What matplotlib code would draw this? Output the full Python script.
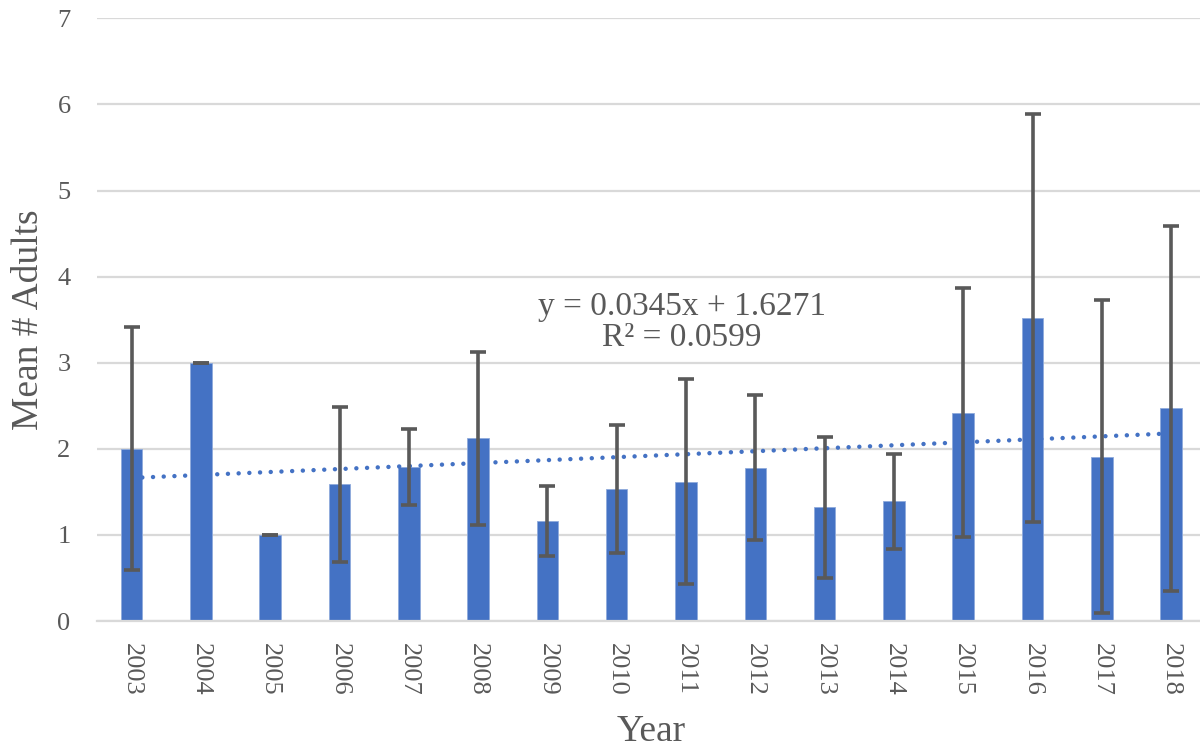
import numpy as np
import matplotlib.pyplot as plt

# Mean number of adults per year, with error bars (SD)
years = ['2003', '2004', '2005', '2006', '2007', '2008', '2009', '2010',
         '2011', '2012', '2013', '2014', '2015', '2016', '2017', '2018']
means = [2.00, 3.00, 1.00, 1.59, 1.79, 2.12, 1.16, 1.53,
         1.62, 1.78, 1.32, 1.39, 2.42, 3.52, 1.91, 2.47]
errors = [1.41, 0.00, 0.00, 0.90, 0.44, 1.01, 0.41, 0.745,
          1.19, 0.84, 0.82, 0.555, 1.45, 2.37, 1.82, 2.12]

# linear trend (Excel)
slope = 0.0345
intercept = 1.6271
r2 = 0.0599

azul = '#4472C4'
cinza = '#595959'

plt.rcParams['font.family'] = ['Liberation Serif', 'DejaVu Serif']

fig = plt.figure(figsize=(12, 7.51), dpi=100)
ax = fig.add_axes([0.0808, 0.1731, 0.924, 0.8025])

x = np.arange(len(years))
ax.bar(x, means, width=0.31, color=azul, edgecolor='#8FAADC', linewidth=0.6, zorder=2)

# trend line over the categories 1..n
xt = np.array([1, len(years)])
ax.plot(xt - 1, slope * xt + intercept, color=azul, lw=3.2,
        linestyle=(0, (0.01, 2.4)), dash_capstyle='round', zorder=3)

ax.errorbar(x, means, yerr=errors, fmt='none', ecolor=cinza, elinewidth=2.6,
            capsize=5.8, capthick=2.6, zorder=4)

ax.text(7.94, 3.47, 'y = 0.0345x + 1.6271\nR² = {:.4f}'.format(r2),
        ha='center', va='center', fontsize=24, color=cinza, linespacing=1.0)

ax.set_xlim(-0.5, len(years) - 0.5)
ax.set_ylim(0, 7)
ax.set_yticks(range(0, 8))
ax.set_xticks(x)
ax.set_xticklabels(years, rotation=-90)
ax.tick_params(axis='both', length=0, labelsize=19, colors=cinza)
ax.tick_params(axis='y', pad=19)
ax.tick_params(axis='x', pad=16)

ax.set_ylabel('Mean # Adults', fontsize=27, color=cinza, labelpad=8)
ax.set_xlabel('Year', fontsize=27, color=cinza, labelpad=13)

ax.grid(axis='y', color='#D9D9D9', linewidth=1.6, zorder=0)
ax.set_axisbelow(True)
for s in ['top', 'right', 'left']:
    ax.spines[s].set_visible(False)
ax.spines['bottom'].set_color('#D9D9D9')
ax.spines['bottom'].set_linewidth(1.6)

fig.savefig('out.png', dpi=100)
